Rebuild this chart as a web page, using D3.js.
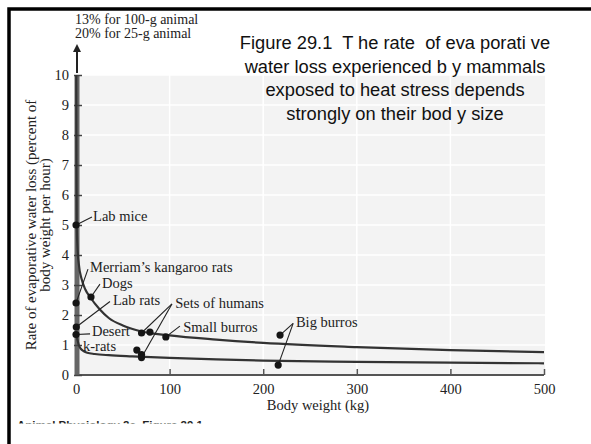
<!DOCTYPE html>
<html><head><meta charset="utf-8">
<script src="https://cdn.jsdelivr.net/npm/d3@7/dist/d3.min.js"></script>
<style>
html,body{margin:0;padding:0;background:#fff;}
svg{display:block;}
text{white-space:pre;}
</style></head>
<body>
<script>
// ---- data ----
const xTicks = [0, 100, 200, 300, 400, 500];
const yTicks = [0, 1, 2, 3, 4, 5, 6, 7, 8, 9, 10];
// upper regression curve (kg, % per hour)
const upperCurveKg   = [0.3, 0.5, 0.8, 1.5, 3, 6, 10, 15, 25, 35, 50, 70, 100, 150, 200, 300, 400, 500];
const upperCurveRate = [10, 7, 5.0, 4.3, 3.7, 3.2, 2.85, 2.6, 2.2, 1.9, 1.65, 1.45, 1.32, 1.18, 1.07, 0.93, 0.83, 0.76];
// lower regression curve
const lowerCurveKg   = [0, 1.5, 3, 5, 8, 12, 20, 35, 60, 100, 150, 200, 300, 400, 500];
const lowerCurveRate = [1.35, 1.18, 1.0, 0.88, 0.8, 0.74, 0.7, 0.66, 0.62, 0.57, 0.52, 0.48, 0.44, 0.41, 0.39];
// observed points
const pointKg   = [0.025, 0.035, 0.3, 0.035, 16, 70, 79, 65, 70, 70, 96, 218, 216];
const pointRate = [5.0, 2.4, 1.6, 1.35, 2.6, 1.4, 1.43, 0.83, 0.68, 0.58, 1.27, 1.33, 0.33];
const pointName = ["Lab mice", "Merriam's kangaroo rats", "Lab rats", "Desert k-rats", "Dogs",
  "Sets of humans", "Sets of humans", "Sets of humans", "Sets of humans", "Sets of humans",
  "Small burros", "Big burros", "Big burros"];
const titleLines = ["Figure 29.1  T he rate  of eva porati ve", "water loss experienced b y mammals",
  "exposed to heat stress depends", "strongly on their bod y size"];
const arrowNote = ["13% for 100-g animal", "20% for 25-g animal"];

// ---- layout ----
const W = 591, H = 444;
const m = {left: 76, right: 544, top: 75, bottom: 375};
const serif = "'Liberation Serif', 'Times New Roman', serif";
const sans = "'Liberation Sans', Arial, sans-serif";

const svg = d3.select("body").append("svg").attr("width", W).attr("height", H);
const x = d3.scaleLinear().domain([0, 500]).range([m.left, m.right]);
const y = d3.scaleLinear().domain([0, 10]).range([m.bottom, m.top]);

// frame
svg.append("path").attr("d", `M9,${H} V9 H${W}`).attr("fill","none").attr("stroke","#000").attr("stroke-width",3.5);

// plot background + grid
svg.append("rect").attr("x", m.left).attr("y", m.top).attr("width", m.right - m.left + 1).attr("height", m.bottom - m.top)
  .attr("fill", "#f3f3f3");
svg.append("g").selectAll("line").data(yTicks.slice(1)).join("line")
  .attr("x1", m.left).attr("x2", m.right + 1).attr("y1", d => y(d)).attr("y2", d => y(d))
  .attr("stroke", "#fff").attr("stroke-width", 1.5);
svg.append("g").selectAll("line").data(xTicks.slice(1, 5)).join("line")
  .attr("y1", m.top).attr("y2", m.bottom).attr("x1", d => x(d)).attr("x2", d => x(d))
  .attr("stroke", "#fff").attr("stroke-width", 1.5);

// title
svg.append("g").selectAll("text").data(titleLines).join("text")
  .attr("x", 395).attr("y", (d, i) => 49 + i * 23.7).attr("text-anchor", "middle")
  .attr("font-family", sans).attr("font-size", 18.3).attr("fill", "#111").text(d => d);

// x axis
const xAxis = d3.axisBottom(x).tickValues(xTicks).tickSize(-6).tickPadding(9).tickFormat(d3.format("d"));
const gx = svg.append("g").attr("transform", `translate(0,${m.bottom})`).call(xAxis);
gx.select(".domain").attr("stroke", "#555").attr("stroke-width", 2).attr("d", `M${m.left},0H${m.right}`);
gx.selectAll(".tick line").attr("stroke", "#555").attr("stroke-width", 1.5);
gx.selectAll(".tick text").attr("font-family", serif).attr("font-size", 14.5).attr("fill", "#222");

// y axis
const yAxis = d3.axisLeft(y).tickValues(yTicks).tickSize(-5).tickPadding(8);
const gy = svg.append("g").attr("transform", `translate(${m.left + 1},0)`).call(yAxis);
gy.select(".domain").attr("stroke", "#666").attr("stroke-width", 5).attr("d", `M0,${m.bottom}V${m.top}`);
gy.selectAll(".tick line").attr("stroke", "#444").attr("stroke-width", 1.5).attr("x1", -3);
gy.selectAll(".tick text").attr("font-family", serif).attr("font-size", 14.5).attr("fill", "#222");

// arrow above y axis
svg.append("defs").append("marker").attr("id", "ah").attr("viewBox", "0 0 10 10").attr("refX", 5).attr("refY", 5)
  .attr("markerWidth", 4).attr("markerHeight", 4).attr("orient", "auto")
  .append("path").attr("d", "M0,0 L10,5 L0,10 z").attr("fill", "#222");
svg.append("line").attr("x1", m.left + 1).attr("x2", m.left + 1).attr("y1", m.top - 2).attr("y2", 48)
  .attr("stroke", "#222").attr("stroke-width", 2).attr("marker-end", "url(#ah)");
svg.append("g").selectAll("text").data(arrowNote).join("text")
  .attr("x", 75).attr("y", (d, i) => 24 + i * 14).attr("font-family", serif).attr("font-size", 14)
  .attr("fill", "#222").text(d => d);

// axis titles
svg.append("text").attr("x", 318).attr("y", 410).attr("text-anchor", "middle")
  .attr("font-family", serif).attr("font-size", 14.5).attr("fill", "#222").text("Body weight (kg)");
const yl = svg.append("text").attr("transform", "translate(0,225) rotate(-90)").attr("text-anchor", "middle")
  .attr("font-family", serif).attr("font-size", 15).attr("fill", "#222");
yl.append("tspan").attr("x", 0).attr("y", 36).text("Rate of evaporative water loss (percent of");
yl.append("tspan").attr("x", 0).attr("y", 50).text("body weight per hour)");

// curves
const line = d3.line().x(d => x(d[0])).y(d => y(d[1])).curve(d3.curveMonotoneX);
svg.append("path").datum(d3.zip(upperCurveKg, upperCurveRate)).attr("d", line)
  .attr("fill", "none").attr("stroke", "#333").attr("stroke-width", 2.2);
svg.append("path").datum(d3.zip(lowerCurveKg, lowerCurveRate)).attr("d", line)
  .attr("fill", "none").attr("stroke", "#333").attr("stroke-width", 2.2);

// label annotations: text anchor and leader start, in data units
const labels = [
  {t: "Lab mice", tx: 18.2, ty: 5.13, lx: 17, ly: 5.27, pts: [0]},
  {t: "Merriam\u2019s kangaroo rats", tx: 15, ty: 3.43, lx: 12.8, ly: 3.53, pts: [1]},
  {t: "Dogs", tx: 27.8, ty: 2.9, lx: 25.6, ly: 3.03, pts: [4]},
  {t: "Lab rats", tx: 39.5, ty: 2.33, lx: 36.3, ly: 2.45, pts: [2]},
  {t: "Sets of humans", tx: 106, ty: 2.23, lx: 102.5, ly: 2.37, pts: [5, 9]},
  {t: "Small burros", tx: 114.5, ty: 1.43, lx: 111, ly: 1.63, pts: [10]},
  {t: "Big burros", tx: 235, ty: 1.6, lx: 232, ly: 1.72, pts: [11, 12]},
  {t: "Desert", tx: 17, ty: 1.3, lx: 15, ly: 1.37, pts: [3]},
  {t: "k-rats", tx: 7.5, ty: 0.8, pts: []}
];
const ann = svg.append("g");
labels.forEach(l => {
  l.pts.forEach(i => {
    ann.append("line").attr("x1", x(l.lx)).attr("y1", y(l.ly)).attr("x2", x(pointKg[i])).attr("y2", y(pointRate[i]))
      .attr("stroke", "#222").attr("stroke-width", 1.1);
  });
  ann.append("text").attr("x", x(l.tx)).attr("y", y(l.ty)).attr("font-family", serif).attr("font-size", 14.5)
    .attr("fill", "#222").text(l.t);
});

// points
svg.append("g").selectAll("circle").data(d3.range(pointKg.length)).join("circle")
  .attr("cx", i => x(pointKg[i])).attr("cy", i => y(pointRate[i])).attr("r", 3.6).attr("fill", "#151515")
  .append("title").text(i => pointName[i]);

// clipped source caption at bottom
svg.append("clipPath").attr("id", "cap").append("rect").attr("x", 0).attr("y", 400).attr("width", W).attr("height", 23.5);
svg.append("text").attr("clip-path", "url(#cap)").attr("x", 17).attr("y", 429).attr("font-family", sans)
  .attr("font-weight", "bold").attr("font-size", 11.5).attr("fill", "#222").text("Animal Physiology 2e, Figure 29.1");
</script>
</body></html>
